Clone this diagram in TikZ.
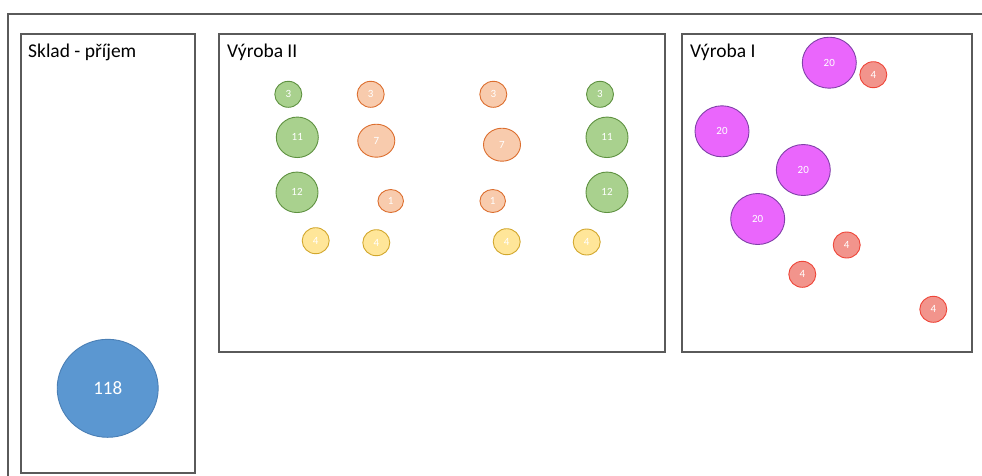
\documentclass[tikz,border=0pt]{standalone}
\usepackage{fontspec}
\setmainfont{Carlito}
\usetikzlibrary{shapes.geometric}
\definecolor{frame}{HTML}{5A5A5A}
\definecolor{gfill}{HTML}{A9D18E}
\definecolor{gdraw}{HTML}{5E9140}
\definecolor{ofill}{HTML}{F8CBAD}
\definecolor{odraw}{HTML}{DC6E2E}
\definecolor{yfill}{HTML}{FFE699}
\definecolor{ydraw}{HTML}{D2A72C}
\definecolor{mfill}{HTML}{EA66FC}
\definecolor{mdraw}{HTML}{8040A8}
\definecolor{rfill}{HTML}{F2948C}
\definecolor{rdraw}{HTML}{EE4538}
\definecolor{bfill}{HTML}{5B97D1}
\definecolor{bdraw}{HTML}{4A7FB5}
\tikzset{
  box/.style={draw=frame, line width=1.4pt},
  title/.style={anchor=base west, inner sep=0pt, font=\fontsize{19.5}{22}\selectfont},
  bub/.style={ellipse, inner sep=0pt, line width=0.9pt, text=white, font=\fontsize{11}{12}\selectfont},
  gb/.style={bub, fill=gfill, draw=gdraw},
  ob/.style={bub, fill=ofill, draw=odraw},
  yb/.style={bub, fill=yfill, draw=ydraw},
  mb/.style={bub, fill=mfill, draw=mdraw},
  rb/.style={bub, fill=rfill, draw=rdraw},
  s3/.style={minimum width=27pt, minimum height=26pt},
  s11/.style={minimum width=42pt, minimum height=40.5pt},
  s7/.style={minimum width=37pt, minimum height=33pt},
  s1/.style={minimum width=25.5pt, minimum height=23pt},
  s4/.style={minimum width=27pt, minimum height=26pt},
  s20/.style={minimum width=54pt, minimum height=51pt},
}
\begin{document}
\begin{tikzpicture}[x=1pt, y=-1pt]
\useasboundingbox (0,0) rectangle (982,475);
\clip (0,0) rectangle (982,475);
% outer frame
\draw[box] (8,490) -- (8,14) -- (1000,14);
% boxes
\draw[box] (21,34) rectangle (195,473);
\draw[box] (219,34) rectangle (665,352);
\draw[box] (682,34) rectangle (972,352);
% titles
\node[title] (tsklad) at (28,57) {Sklad - příjem};
\node[title] (tv2) at (227,57) {Výroba II};
\node[title] (tv1) at (690,57) {Výroba I};
% Sklad
\node[bub, fill=bfill, draw=bdraw, minimum width=101pt, minimum height=98pt,
      font=\fontsize{19}{21}\selectfont] (b118) at (107.7,388.3) {118};
% Vyroba II
\node[gb, s3] (g3a) at (288.3,94.3) {3};
\node[ob, s3] (o3a) at (370.7,94.3) {3};
\node[ob, s3] (o3b) at (493.3,94.3) {3};
\node[gb, s3] (g3b) at (600,94.3) {3};
\node[gb, s11] (g11a) at (297.3,137.3) {11};
\node[ob, s7] (o7a) at (376.3,140.7) {7};
\node[ob, s7] (o7b) at (502,144.7) {7};
\node[gb, s11] (g11b) at (607,137.3) {11};
\node[gb, s11] (g12a) at (297,192.3) {12};
\node[ob, s1] (o1a) at (390.7,201) {1};
\node[ob, s1] (o1b) at (492.7,201) {1};
\node[gb, s11] (g12b) at (607,192.3) {12};
\node[yb, s4] (y4a) at (315.7,240.7) {4};
\node[yb, s4] (y4b) at (376.3,242.7) {4};
\node[yb, s4] (y4c) at (506.7,241.7) {4};
\node[yb, s4] (y4d) at (586.7,242) {4};
% Vyroba I
\node[mb, s20] (m20a) at (829.3,62.7) {20};
\node[rb, s4] (r4a) at (873.3,74.7) {4};
\node[mb, s20] (m20b) at (722,131.3) {20};
\node[mb, s20] (m20c) at (803.3,170) {20};
\node[mb, s20] (m20d) at (757.7,219) {20};
\node[rb, s4] (r4b) at (846.7,245) {4};
\node[rb, s4] (r4c) at (802.3,274.3) {4};
\node[rb, s4] (r4d) at (933.3,309.3) {4};
\end{tikzpicture}
\end{document}
